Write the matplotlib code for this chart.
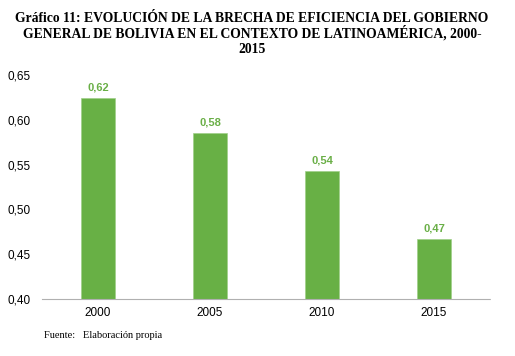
import matplotlib.pyplot as plt
import numpy as np

years = ['2000', '2005', '2010', '2015']
brecha = [0.624, 0.585, 0.543, 0.467]
labels = ['0,62', '0,58', '0,54', '0,47']
yticks = [0.40, 0.45, 0.50, 0.55, 0.60, 0.65]
title_lines = ['Gráfico 11: EVOLUCIÓN DE LA BRECHA DE EFICIENCIA DEL GOBIERNO',
               'GENERAL DE BOLIVIA EN EL CONTEXTO DE LATINOAMÉRICA, 2000-',
               '2015']

green = '#68B045'

fig = plt.figure(figsize=(5.15, 3.56), dpi=100)
ax = fig.add_axes([42 / 515, 1 - 299 / 356, 448 / 515, 224 / 356])

x = np.arange(len(years))
ax.bar(x, [b - 0.40 for b in brecha], bottom=0.40, width=0.31, color=green,
       edgecolor='#9fcf8a', linewidth=0.5)
for xi, b, lab in zip(x, brecha, labels):
    ax.text(xi, b + 0.006, lab, ha='center', va='bottom', color='#6AAF47',
            fontsize=8, fontweight='bold', family='Liberation Sans')

ax.set_xlim(-0.5, 3.5)
ax.set_ylim(0.40, 0.65)
ax.set_xticks(x)
ax.set_xticklabels(years, family='Liberation Sans', fontsize=8.5)
ax.set_yticks(yticks)
ax.set_yticklabels([f'{t:.2f}'.replace('.', ',') for t in yticks],
                   family='Liberation Sans', fontsize=8.5)
ax.tick_params(length=0, pad=6)
ax.tick_params(axis='y', pad=8)
for s in ['top', 'right', 'left']:
    ax.spines[s].set_visible(False)
ax.spines['bottom'].set_color('#b0b0b0')
ax.spines['bottom'].set_linestyle((0, (1, 1)))
ax.spines['bottom'].set_linewidth(0.8)

# title lines placed one by one for even spacing
for i, line in enumerate(title_lines):
    fig.text(252 / 515, 1 - (22 + 15.5 * i) / 356, line,
             ha='center', va='baseline', fontsize=9.8, fontweight='bold',
             family='Liberation Serif')
fig.text(44 / 515, 1 - 336 / 356, 'Fuente:   Elaboración propia',
         ha='left', va='center', fontsize=7.5, family='Liberation Serif')

fig.savefig('out.png', dpi=100)
